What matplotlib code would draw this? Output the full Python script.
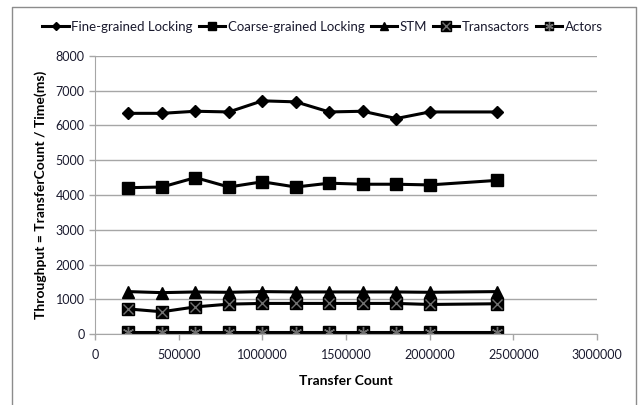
import matplotlib
matplotlib.use("Agg")
import matplotlib.pyplot as plt
from matplotlib.legend_handler import HandlerTuple
from matplotlib.lines import Line2D

plt.rcParams['font.family'] = ['Lato', 'DejaVu Sans']

# data
transfer_count = [200000, 400000, 600000, 800000, 1000000, 1200000,
                  1400000, 1600000, 1800000, 2000000, 2400000]
fine_grained = [6350, 6350, 6410, 6390, 6710, 6680, 6390, 6410, 6200, 6390, 6390]
coarse_grained = [4210, 4230, 4500, 4230, 4380, 4230, 4340, 4310, 4310, 4290, 4420]
stm = [1220, 1190, 1210, 1200, 1220, 1210, 1210, 1210, 1210, 1200, 1220]
transactors = [720, 640, 780, 860, 880, 880, 880, 880, 880, 850, 870]
actors = [60, 60, 60, 60, 60, 60, 60, 60, 60, 60, 60]

x_ticks = [0, 500000, 1000000, 1500000, 2000000, 2500000, 3000000]
y_ticks = [0, 1000, 2000, 3000, 4000, 5000, 6000, 7000, 8000]

grid_col = '#a6a6a6'
txt_col = '#1a1a2e'

fig = plt.figure(figsize=(6.39, 4.05), dpi=100)
ax = fig.add_axes([95/639, 1-334/405, (597-95)/639, (334-56)/405])

lw = 2.2
h1, = ax.plot(transfer_count, fine_grained, color='black', lw=lw, marker='D', ms=6)
h2, = ax.plot(transfer_count, coarse_grained, color='black', lw=lw, marker='s', ms=8)
h3, = ax.plot(transfer_count, stm, color='black', lw=lw, marker='^', ms=8)
h4, = ax.plot(transfer_count, transactors, color='black', lw=lw, marker='s', ms=9)
h4b, = ax.plot(transfer_count, transactors, ls='none', marker='x', ms=7, mew=1, color='#707070')
h5, = ax.plot(transfer_count, actors, color='black', lw=lw, marker='s', ms=8)
h5b, = ax.plot(transfer_count, actors, ls='none', marker=(6, 2, 0), ms=8, mew=1, color='#707070')

ax.set_xlim(0, 3000000)
ax.set_ylim(0, 8000)
ax.set_xticks(x_ticks)
ax.set_yticks(y_ticks)
ax.set_xticklabels([str(v) for v in x_ticks])
ax.set_yticklabels([str(v) for v in y_ticks])
ax.grid(axis='y', color=grid_col, lw=1)
ax.set_axisbelow(True)
for s in ['top', 'right']:
    ax.spines[s].set_visible(False)
for s in ['left', 'bottom']:
    ax.spines[s].set_color(grid_col)
ax.tick_params(axis='both', colors=grid_col, labelcolor=txt_col, labelsize=9, length=4, width=1)
ax.tick_params(axis='x', pad=7)

ax.set_xlabel('Transfer Count', fontsize=10, fontweight='bold', color='black', labelpad=10)
ax.set_ylabel('Throughput = TransferCount / Time(ms)', fontsize=10, fontweight='bold',
              color='black', labelpad=6)

handles = [h1, h2, h3, (h4, h4b), (h5, h5b)]
labels = ['Fine-grained Locking', 'Coarse-grained Locking', 'STM', 'Transactors', 'Actors']
fig.legend(handles, labels, loc='center', bbox_to_anchor=(0.505, 1-27/405), ncol=5,
           frameon=False, fontsize=9.5, handlelength=2.0, handletextpad=0.2,
           columnspacing=0.45, handler_map={tuple: HandlerTuple(ndivide=1)},
           markerscale=0.75, labelcolor=txt_col)

# outer chart frame
frame_x = [12/639, 12/639, 636/639, 636/639]
frame_y = [0, 1-7/405, 1-7/405, 0]
fig.add_artist(Line2D(frame_x, frame_y, transform=fig.transFigure, color='#8c8c8c', lw=1))

fig.savefig('out.png', dpi=100)
